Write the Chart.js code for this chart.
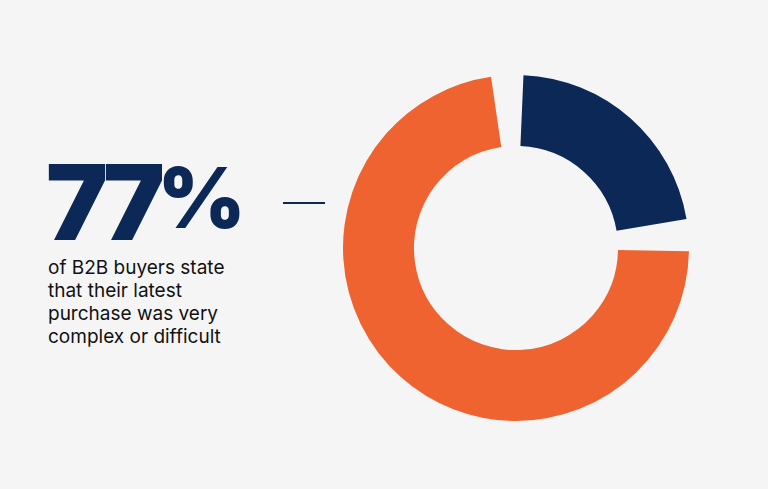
<!DOCTYPE html>
<html><head><meta charset="utf-8">
<script src="https://cdn.jsdelivr.net/npm/chart.js@4"></script>
<style>
body{margin:0;width:768px;height:489px;background:#f5f5f5;position:relative;overflow:hidden;font-family:Inter,"Noto Sans",sans-serif}
#big{position:absolute;left:46px;top:150px;font-size:104px;font-weight:900;color:#0b2856;letter-spacing:-7px;line-height:1}
#big span{font-size:84px;letter-spacing:0;vertical-align:12px}
#line{position:absolute;left:283px;top:202px;width:42px;height:2px;background:#0b2856}
#sub{position:absolute;left:48px;top:256px;font-size:19px;line-height:23px;color:#111}
#wrap{position:absolute;left:343px;top:75px;width:346px;height:346px}
</style></head><body>
<div id="big">77<span>%</span></div><div id="line"></div>
<div id="sub">of B2B buyers state<br>that their latest<br>purchase was very<br>complex or difficult</div>
<div id="wrap"><canvas id="c"></canvas></div>
<script>
const labels=["Not complex","Very complex or difficult"];
const values=[23,77];
const colors=["#0b2856","#ee6330"];
new Chart(document.getElementById('c'),{type:'doughnut',
data:{labels,datasets:[{data:values,backgroundColor:colors,borderWidth:0,spacing:16}]},
options:{responsive:true,maintainAspectRatio:false,animation:false,cutout:'57%',
plugins:{legend:{display:false},tooltip:{enabled:false}},layout:{padding:0}}});
</script></body></html>
